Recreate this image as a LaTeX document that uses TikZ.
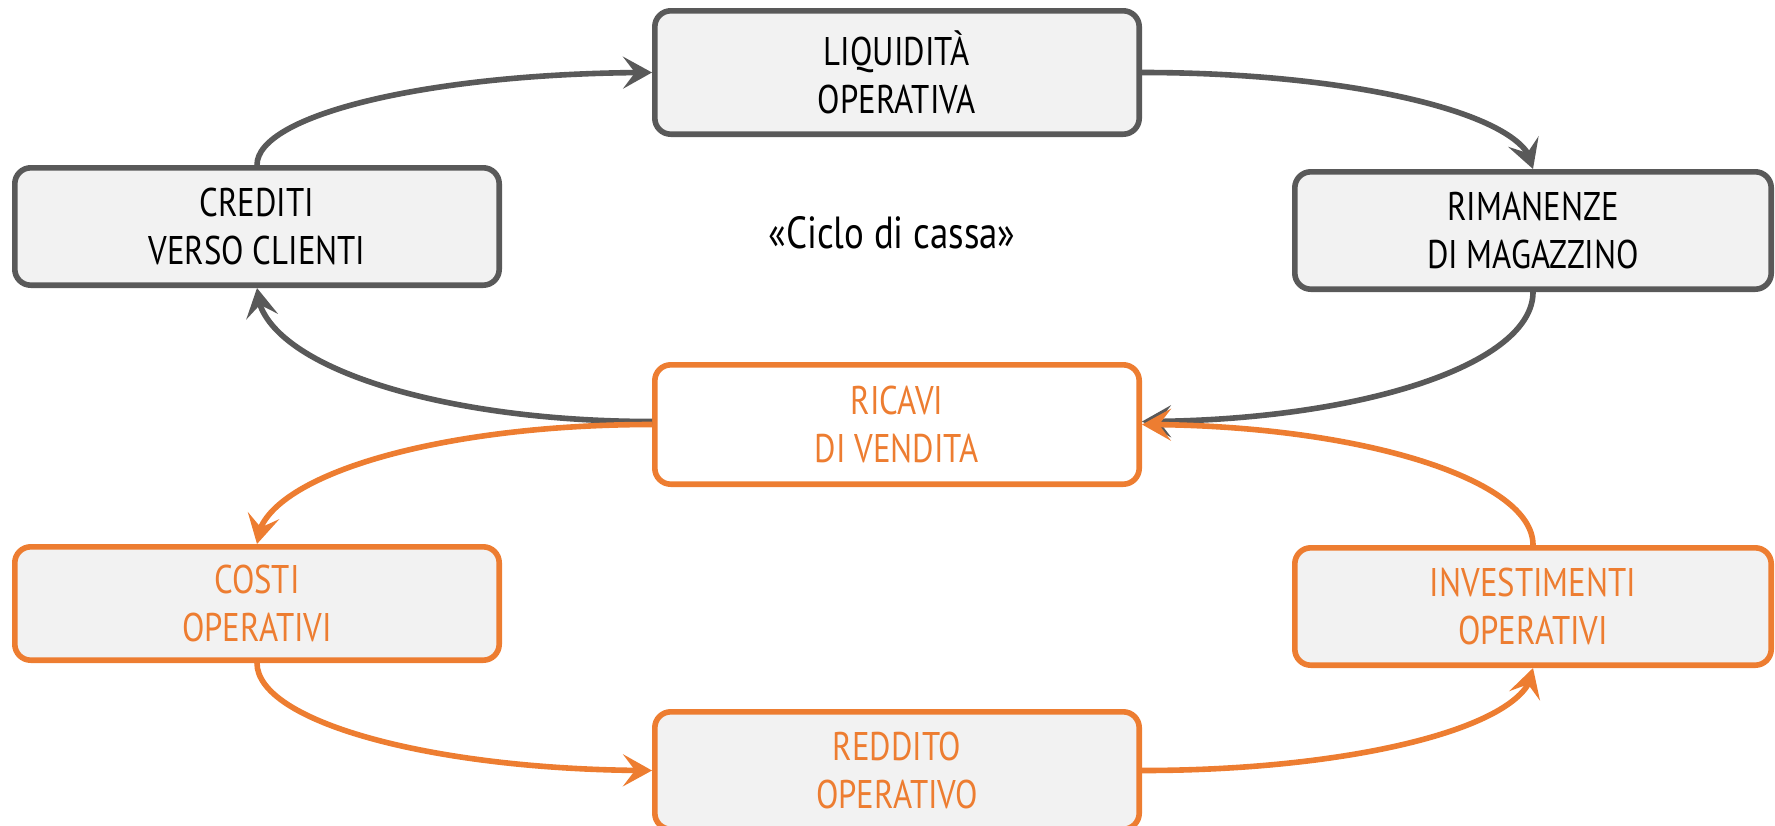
\documentclass[tikz,border=0pt]{standalone}
\usepackage{fontspec}
\setmainfont{PT Sans}[FakeStretch=0.82]
\usetikzlibrary{arrows.meta,bending}
\definecolor{dg}{HTML}{595959}
\definecolor{og}{HTML}{ED7D31}
\definecolor{bx}{HTML}{F2F2F2}
\begin{document}
\begin{tikzpicture}[x=0.5pt,y=-0.5pt,
  box/.style={rectangle, rounded corners=8pt, line width=2.8pt, minimum width=242.2pt,
    minimum height=58.7pt, align=center, font=\fontsize{20}{24}\selectfont, inner sep=0pt},
  gbox/.style={box, draw=dg, fill=bx, text=black},
  obox/.style={box, draw=og, fill=bx, text=og},
  conn/.style={line width=2.8pt, -{Stealth[length=14.5pt,width=16pt,inset=6pt]}},
  gconn/.style={conn, draw=dg},
  oconn/.style={conn, draw=og}]
\useasboundingbox (0,0) rectangle (1775,825);

\node[gbox, minimum height=61.7pt] (liq) at (897,72.5) {LIQUIDITÀ\\OPERATIVA};
\node[gbox] (cred) at (257,226.5) {CREDITI\\VERSO CLIENTI};
\node[gbox, minimum width=238.2pt] (rim) at (1533,230.5) {RIMANENZE\\DI MAGAZZINO};
\node[obox, fill=white, minimum height=59.7pt] (ric) at (897,424.5) {RICAVI\\DI VENDITA};
\node[obox, minimum height=56.7pt] (cost) at (257,603.5) {COSTI\\OPERATIVI};
\node[obox, minimum width=238.2pt] (inv) at (1533,606.5) {INVESTIMENTI\\OPERATIVI};
\node[obox] (red) at (897,770.5) {REDDITO\\OPERATIVO};

\node[font=\fontsize{22.5}{26}\selectfont] (title) at (892,233) {«Ciclo di cassa»};

\draw[gconn] (cred.north) .. controls +(0,-51) and +(-218,0) .. (liq.west);
\draw[gconn] (liq.east) .. controls +(216,0) and +(0,-53) .. (rim.north);
\draw[gconn] (rim.south) .. controls +(0,73) and +(216,0) .. ([yshift=1.5pt]ric.east);
\draw[gconn] ([yshift=1.5pt]ric.west) .. controls +(-218,0) and +(0,75) .. (cred.south);

\draw[oconn] (ric.west) .. controls +(-218,0) and +(0,-66) .. (cost.north);
\draw[oconn] (cost.south) .. controls +(0,59) and +(-218,0) .. (red.west);
\draw[oconn] (red.east) .. controls +(216,0) and +(0,57) .. (inv.south);
\draw[oconn] (inv.north) .. controls +(0,-66) and +(216,0) .. (ric.east);
\end{tikzpicture}
\end{document}
